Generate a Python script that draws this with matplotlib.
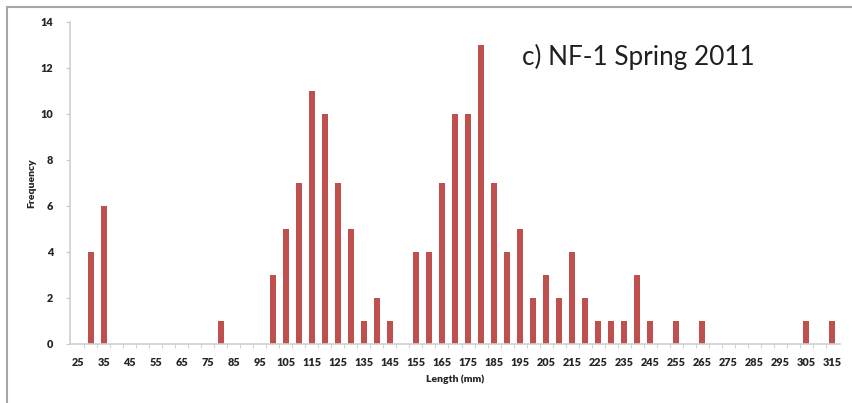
import numpy as np
import matplotlib.pyplot as plt
from matplotlib.patches import Rectangle

# length classes (mm) and counts
lengths = list(range(25, 320, 5))
counts = [0, 4, 6, 0, 0, 0, 0, 0, 0, 0, 0, 1, 0, 0, 0, 3, 5, 7, 11, 10,
          7, 5, 1, 2, 1, 0, 4, 4, 7, 10, 10, 13, 7, 4, 5, 2, 3, 2, 4, 2,
          1, 1, 1, 3, 1, 0, 1, 0, 1, 0, 0, 0, 0, 0, 0, 0, 1, 0, 1]
y_ticks = [0, 2, 4, 6, 8, 10, 12, 14]

plt.rcParams['font.family'] = ['Lato', 'DejaVu Sans']

fig = plt.figure(figsize=(8.52, 4.03), dpi=100)
ax = fig.add_axes([70 / 852, 1 - 344 / 403, 770 / 852, 322 / 403])

# chart border (only left and top visible in the crop)
fig.patches.append(Rectangle((7 / 852, -0.1), 1.2, 1 - 7 / 403 + 0.1,
                             transform=fig.transFigure, fill=False,
                             edgecolor='#a6a6a6', linewidth=1.5))

x = np.arange(len(lengths))
ax.bar(x, counts, width=0.45, color='#c0504d', zorder=2)

ax.set_xlim(-0.6, len(lengths) - 0.4)
ax.set_ylim(0, 14)
ax.set_yticks(y_ticks)
ax.set_xticks(x[::2])
ax.set_xticklabels([str(v) for v in lengths[::2]])
ax.set_xticks(x[:-1] + 0.5, minor=True)

for s in ['top', 'right']:
    ax.spines[s].set_visible(False)
for s in ['left', 'bottom']:
    ax.spines[s].set_color('#d0d0d0')
    ax.spines[s].set_linewidth(1.2)

ax.tick_params(axis='x', which='major', length=0, pad=9, labelsize=7.8)
ax.tick_params(axis='x', which='minor', length=3, color='#c8c8c8')
ax.tick_params(axis='y', length=3, color='#c8c8c8', labelsize=7.8, pad=9)
for lab in ax.get_xticklabels() + ax.get_yticklabels():
    lab.set_fontweight('heavy')
    lab.set_color('#262626')

ax.set_ylabel('Frequency', fontsize=7.5, fontweight='heavy', color='#262626', labelpad=3)
ax.set_xlabel('Length (mm)', fontsize=7.5, fontweight='heavy', color='#262626', labelpad=5)

fig.text(522 / 852, 1 - 57 / 403, 'c) NF-1 Spring 2011', fontsize=18.8,
         color='#202020', va='center', ha='left')

fig.savefig('out.png', dpi=100)
